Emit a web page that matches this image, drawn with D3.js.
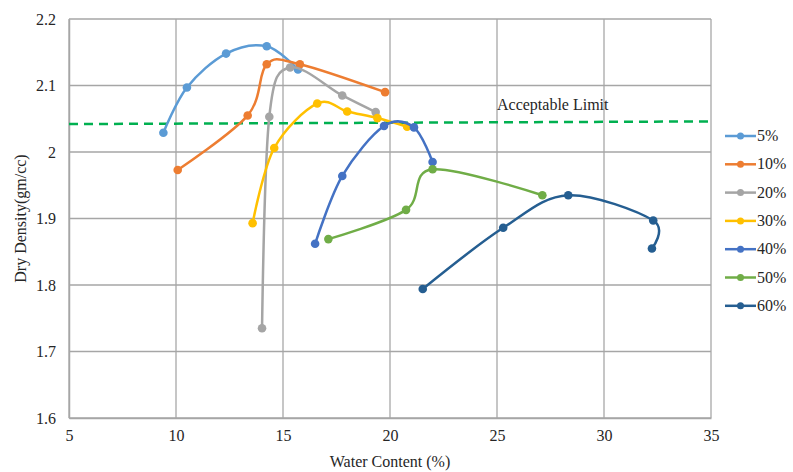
<!DOCTYPE html>
<html><head><meta charset="utf-8">
<script src="https://cdn.jsdelivr.net/npm/d3@7"></script>
<style>
body{margin:0;background:#fff;}
svg text{font-family:"Liberation Serif","Times New Roman",Times,serif !important;fill:#262626;font-size:16px;}
</style></head>
<body><svg id="c" width="793" height="472"></svg>
<script>
const seriesNames = ["5%","10%","20%","30%","40%","50%","60%"];
const seriesColors = ["#5B9BD5","#ED7D31","#A5A5A5","#FFC000","#4472C4","#70AD47","#255E91"];
const s5  = [[9.41,2.029],[10.51,2.097],[12.34,2.148],[14.24,2.159],[15.70,2.124]];
const s10 = [[10.08,1.973],[13.35,2.055],[14.24,2.132],[15.79,2.132],[19.77,2.090]];
const s20 = [[14.02,1.735],[14.36,2.053],[15.33,2.127],[17.77,2.085],[19.33,2.060]];
const s30 = [[13.58,1.893],[14.59,2.006],[16.60,2.073],[18.00,2.061],[19.41,2.051],[20.80,2.038]];
const s40 = [[16.50,1.862],[17.77,1.964],[19.72,2.039],[21.12,2.037],[21.99,1.985]];
const s50 = [[17.12,1.869],[20.75,1.913],[21.99,1.974],[27.12,1.935]];
const s60 = [[21.53,1.794],[25.29,1.886],[28.33,1.935],[32.30,1.897],[32.24,1.855]];
const allSeries = [s5,s10,s20,s30,s40,s50,s60];
const limitLine = [[5,2.042],[35,2.046]];
const limitLabel = "Acceptable Limit";
const xTicks = [5,10,15,20,25,30,35];
const yTicks = [1.6,1.7,1.8,1.9,2.0,2.1,2.2];
const xTitle = "Water Content (%)";
const yTitle = "Dry Density(gm/cc)";

const svg = d3.select("#c");
const L=69,R=711,T=19,B=418;
const x = d3.scaleLinear().domain([5,35]).range([L,R]);
const y = d3.scaleLinear().domain([1.6,2.2]).range([B,T]);

// grid
svg.append("g").selectAll("line").data(xTicks).join("line")
  .attr("x1",d=>x(d)).attr("x2",d=>x(d)).attr("y1",T).attr("y2",B)
  .attr("stroke","#b3b3b3").attr("stroke-width",1.5);
svg.append("g").selectAll("line").data(yTicks).join("line")
  .attr("x1",L).attr("x2",R).attr("y1",d=>y(d)).attr("y2",d=>y(d))
  .attr("stroke","#a6a6a6").attr("stroke-width",1.5);

// axes
const xa = svg.append("g").attr("transform",`translate(0,${B})`)
  .call(d3.axisBottom(x).tickValues(xTicks).tickSize(0).tickPadding(12).tickFormat(d3.format("d")));
const ya = svg.append("g").attr("transform",`translate(${L},0)`)
  .call(d3.axisLeft(y).tickValues(yTicks).tickSize(0).tickPadding(13).tickFormat(d=>d===2?"2":d3.format(".1f")(d)));
[xa,ya].forEach(a=>{a.attr("font-family",null).attr("font-size",null);
  a.select(".domain").attr("stroke","#a6a6a6").attr("stroke-width",1.5);
  a.selectAll("text").attr("fill","#262626");});

// limit line
svg.append("path").datum(limitLine)
  .attr("d",d3.line().x(d=>x(d[0])).y(d=>y(d[1])))
  .attr("stroke","#00B050").attr("stroke-width",2.5).attr("stroke-dasharray","9,6").attr("fill","none");
svg.append("text").attr("x",497).attr("y",110).text(limitLabel);

// series
const line = d3.line().x(d=>x(d[0])).y(d=>y(d[1])).curve(d3.curveCardinal.tension(0));
allSeries.forEach((s,i)=>{
  svg.append("path").datum(s).attr("d",line).attr("fill","none")
    .attr("stroke",seriesColors[i]).attr("stroke-width",2.5);
  svg.append("g").selectAll("circle").data(s).join("circle")
    .attr("cx",d=>x(d[0])).attr("cy",d=>y(d[1])).attr("r",4.3).attr("fill",seriesColors[i]);
});

// legend
const lg = svg.append("g");
seriesNames.forEach((n,i)=>{
  const yy = 136 + i*28.3;
  lg.append("line").attr("x1",725).attr("x2",756).attr("y1",yy).attr("y2",yy)
    .attr("stroke",seriesColors[i]).attr("stroke-width",2.5);
  lg.append("circle").attr("cx",740.5).attr("cy",yy).attr("r",3.5).attr("fill",seriesColors[i]);
  lg.append("text").attr("x",757).attr("y",yy+5).text(n);
});

// titles
svg.append("text").attr("x",(L+R)/2).attr("y",467).attr("text-anchor","middle").text(xTitle);
svg.append("text").attr("transform",`translate(26,${(T+B)/2}) rotate(-90)`).attr("text-anchor","middle").text(yTitle);
</script></body></html>
